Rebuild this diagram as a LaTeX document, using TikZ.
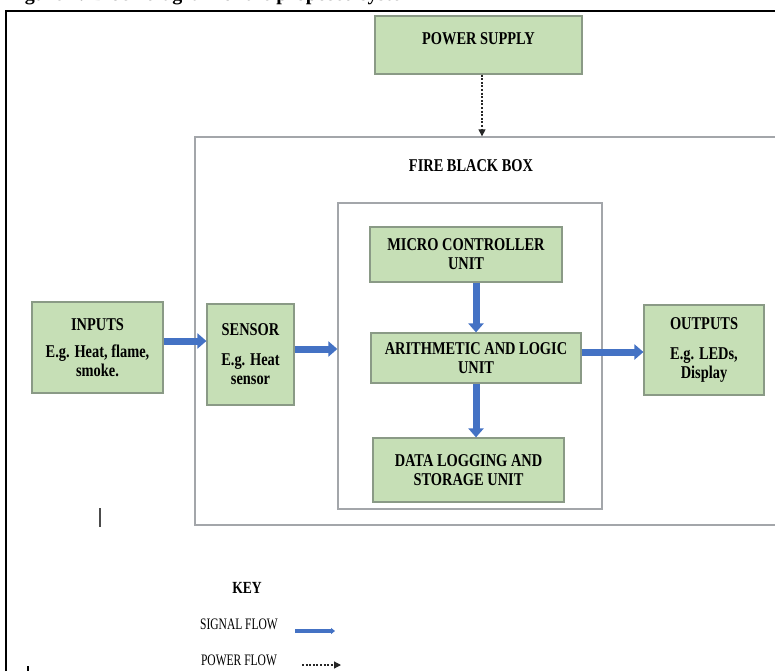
\documentclass[tikz,border=0pt]{standalone}
\usepackage{fontspec}
\setmainfont{Liberation Serif}[FakeStretch=0.8]
\newfontfamily\capfont{Liberation Serif}
\newfontfamily\keyfont{Liberation Serif}[FakeStretch=0.72]
\usetikzlibrary{arrows.meta}
\definecolor{boxfill}{HTML}{C6DFB6}
\definecolor{boxline}{HTML}{8A9A86}
\definecolor{flowblue}{HTML}{4472C4}
\definecolor{frameline}{HTML}{A3A6AA}
\tikzset{
  gbox/.style={draw=boxline, fill=boxfill, line width=1.2pt, align=center,
    font=\bfseries\fontsize{18}{19}\selectfont, inner sep=0pt},
  plainbox/.style={draw=frameline, line width=1.3pt, inner sep=0pt},
  sigflow/.style={draw=flowblue, line width=7pt, -{Triangle[width=15pt,length=9pt]}},
  keysig/.style={draw=flowblue, line width=3.5pt, -{Triangle[width=6pt,length=4pt]}},
  pwrflow/.style={draw=black!85, line width=1.2pt, dash pattern=on 2pt off 1.6pt, -{Triangle[width=7pt,length=7pt]}},
  keytext/.style={font=\keyfont\fontsize{16}{18}\selectfont, inner sep=0pt},
}
\begin{document}
\begin{tikzpicture}[x=1pt,y=-1pt]
\useasboundingbox (0,0) rectangle (775,671);
\clip (0,0) rectangle (775,671);
% caption (cut off at the top)
\node[anchor=base west, inner sep=0pt, font=\capfont\bfseries\fontsize{20}{22}\selectfont] (cap) at (7,0.3) {Figure 1: Block diagram of the proposed system};
% outer frame
\draw[line width=2.5pt, black] (6,671) -- (6,11) -- (776,11);
% boxes
\node[plainbox, minimum width=583pt, minimum height=388pt] (fire) at (486.5,331) {};
\node[inner sep=0pt, font=\bfseries\fontsize{18}{19}\selectfont] (firetitle) at (471,166) {FIRE BLACK BOX};
\node[plainbox, minimum width=264pt, minimum height=306pt] (inner) at (470,356) {};
\node[gbox, minimum width=207pt, minimum height=58pt] (power) at (478.5,45) {POWER SUPPLY\\[-7pt]\mbox{}};
\node[gbox, minimum width=192pt, minimum height=55pt] (mcu) at (466,254.5) {MICRO CONTROLLER\\UNIT};
\node[gbox, minimum width=210pt, minimum height=50pt] (alu) at (476,358) {ARITHMETIC AND LOGIC\\UNIT};
\node[gbox, minimum width=191pt, minimum height=64pt] (data) at (468.5,470) {DATA LOGGING AND\\STORAGE UNIT};
\node[gbox, minimum width=120pt, minimum height=90pt] (out) at (704,350) {OUTPUTS\\[11pt]E.g. LEDs,\\Display};
\node[gbox, minimum width=131pt, minimum height=91pt] (in) at (97.5,347.5) {INPUTS\\[8pt]E.g. Heat, flame,\\smoke.};
\node[gbox, minimum width=87pt, minimum height=101pt] (sensor) at (250.5,354.5) {SENSOR\\[11pt]E.g. Heat\\sensor};
% signal flows
\draw[sigflow] ([yshift=6.5pt]in.east) -- ([yshift=6.5pt]in.east -| sensor.west);
\draw[sigflow] ([yshift=5.5pt]sensor.east) -- ([yshift=5.5pt]sensor.east -| inner.west);
\draw[sigflow] (alu.north |- mcu.south) -- (alu.north);
\draw[sigflow] (alu.south) -- (alu.south |- data.north);
\draw[sigflow] ([yshift=6pt]alu.east) -- ([yshift=6pt]alu.east -| out.west);
% power flow
\draw[pwrflow] ([xshift=3.5pt]power.south) -- ([xshift=3.5pt]power.south |- fire.north);
% stray marks
\coordinate (m1) at (100,508);
\coordinate (m2) at (100,527);
\draw[line width=1.2pt, black!70] (m1) -- (m2);
\coordinate (t1) at (28,666);
\coordinate (t2) at (28,671);
\draw[line width=1.2pt, black] (t1) -- (t2);
% key
\node[inner sep=0pt, font=\bfseries\fontsize{17}{18}\selectfont] (key) at (247,588) {KEY};
\node[keytext] (ksig) at (239,624) {SIGNAL FLOW};
\node[keytext] (kpow) at (239,660) {POWER FLOW};
\coordinate (s1) at (295,631);
\coordinate (s2) at (335,631);
\draw[keysig] (s1) -- (s2);
\coordinate (p1) at (302,665);
\coordinate (p2) at (341,665);
\draw[pwrflow] (p1) -- (p2);
\end{tikzpicture}
\end{document}
